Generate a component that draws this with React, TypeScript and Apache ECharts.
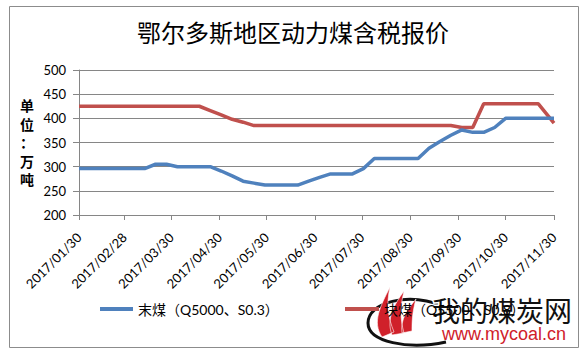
import React, { useEffect, useRef } from "react";
import * as echarts from "echarts";

// ---- data ----
const titleText = "鄂尔多斯地区动力煤含税报价";
const yAxisTitleChars = ["单", "位", "：", "万", "吨"];
const startDate = "2017/01/30";
const endDate = "2017/11/30";
const tickLabels = [
  "2017/01/30", "2017/02/28", "2017/03/30", "2017/04/30", "2017/05/30", "2017/06/30",
  "2017/07/30", "2017/08/30", "2017/09/30", "2017/10/30", "2017/11/30",
];
const pointDates = [
  "2017/01/30", "2017/02/06", "2017/02/13", "2017/02/20", "2017/02/27", "2017/03/06",
  "2017/03/13", "2017/03/20", "2017/03/27", "2017/04/03", "2017/04/10", "2017/04/17",
  "2017/04/24", "2017/05/01", "2017/05/08", "2017/05/15", "2017/05/22", "2017/05/29",
  "2017/06/05", "2017/06/12", "2017/06/19", "2017/06/26", "2017/07/03", "2017/07/10",
  "2017/07/17", "2017/07/24", "2017/07/31", "2017/08/07", "2017/08/14", "2017/08/21",
  "2017/08/28", "2017/09/04", "2017/09/11", "2017/09/18", "2017/09/25", "2017/10/02",
  "2017/10/09", "2017/10/16", "2017/10/23", "2017/10/30", "2017/11/06", "2017/11/13",
  "2017/11/20", "2017/11/30",
];
const seriesNames = ["末煤（Q5000、S0.3）", "块煤（Q5500、S0.8）"];
const fineCoal = [
  296, 296, 296, 296, 296, 296, 296, 305, 305, 300, 300, 300,
  300, 291, 281, 270, 266, 262, 262, 262, 262, 270, 278, 285,
  285, 285, 296, 317, 317, 317, 317, 317, 338, 352, 365, 376,
  371, 371, 381, 400, 400, 400, 400, 400,
];
const lumpCoal = [
  425, 425, 425, 425, 425, 425, 425, 425, 425, 425, 425, 425,
  416, 407, 398, 392, 385, 385, 385, 385, 385, 385, 385, 385,
  385, 385, 385, 385, 385, 385, 385, 385, 385, 385, 385, 381,
  381, 430, 430, 430, 430, 430, 430, 390,
];
const yMin = 200;
const yMax = 500;
const yStep = 50;
const watermarkTitle = "我的煤炭网";
const watermarkUrl = "www.mycoal.cn";

// daily categories for a date axis
function buildDays(a: string, b: string): string[] {
  const p = (s: string) => s.split("/").map(Number);
  const [y1, m1, d1] = p(a);
  const [y2, m2, d2] = p(b);
  let t = Date.UTC(y1, m1 - 1, d1);
  const e = Date.UTC(y2, m2 - 1, d2);
  const out: string[] = [];
  while (t <= e) {
    const d = new Date(t);
    const mm = String(d.getUTCMonth() + 1).padStart(2, "0");
    const dd = String(d.getUTCDate()).padStart(2, "0");
    out.push(`${d.getUTCFullYear()}/${mm}/${dd}`);
    t += 86400000;
  }
  return out;
}
const categories = buildDays(startDate, endDate);

echarts.graphic.registerShape(
  "flame",
  echarts.graphic.extendPath(
    "M10 50 C0 35 8 20 18 0 C14 18 16 30 22 45 Z M20 48 C14 32 22 18 32 4 C28 20 28 32 32 46 Z M30 46 C28 32 36 22 44 12 C40 26 40 36 40 44 Z",
    {}
  )
);
echarts.graphic.registerShape(
  "swoosh",
  echarts.graphic.extendPath("M75 8 C40 -6 0 4 0 25 C0 44 40 52 78 44", {})
);

export default function App() {
  const ref = useRef<HTMLDivElement>(null);
  useEffect(() => {
    document.body.style.margin = "0";
    if (!ref.current) return;
    const chart = echarts.init(ref.current, undefined, { renderer: "svg" });
    const tickSet = new Set(tickLabels);
    const showFn = (_i: number, v: string) => tickSet.has(v);
    const latin = "Lato, 'Noto Sans CJK SC', sans-serif";
    const cjk = "'Noto Sans CJK SC', sans-serif";
    const gridColor = "#868686";
    chart.setOption({
      animation: false,
      backgroundColor: "#fff",
      title: {
        text: titleText,
        left: "center",
        top: 14,
        textStyle: {
          fontSize: 24,
          fontWeight: "normal",
          fontFamily: cjk,
          color: "#000",
        },
      },
      grid: { left: 79, right: 32, top: 70, bottom: 140, containLabel: false },
      legend: [
        {
          data: [seriesNames[0]],
          left: 95,
          top: 296,
          icon: "rect",
          itemWidth: 33,
          itemHeight: 4,
          textStyle: { fontSize: 14, fontFamily: latin, color: "#000", lineHeight: 16 },
        },
        {
          data: [seriesNames[1]],
          left: 340,
          top: 296,
          icon: "rect",
          itemWidth: 34,
          itemHeight: 4,
          textStyle: { fontSize: 14, fontFamily: latin, color: "#000", lineHeight: 16 },
        },
      ],
      xAxis: {
        type: "category",
        data: categories,
        boundaryGap: false,
        axisLine: { lineStyle: { color: gridColor, width: 1 } },
        axisTick: { show: true, interval: showFn, length: 5, lineStyle: { color: gridColor } },
        axisLabel: {
          interval: showFn,
          rotate: 45,
          margin: 20,
          fontSize: 13,
          fontFamily: latin,
          color: "#000",
        },
        splitLine: { show: false },
      },
      yAxis: {
        type: "value",
        min: yMin,
        max: yMax,
        interval: yStep,
        axisLine: { show: true, lineStyle: { color: gridColor, width: 1 } },
        axisTick: { show: true, length: 6, lineStyle: { color: gridColor } },
        axisLabel: { margin: 13, fontSize: 13, fontFamily: latin, color: "#000" },
        splitLine: { show: true, lineStyle: { color: gridColor, width: 1 } },
      },
      series: [
        {
          name: seriesNames[0],
          type: "line",
          data: pointDates.map((d, i) => [d, fineCoal[i]]),
          symbol: "none",
          color: "#4F81BD",
          lineStyle: { width: 3.5, color: "#4F81BD" },
          z: 3,
        },
        {
          name: seriesNames[1],
          type: "line",
          data: pointDates.map((d, i) => [d, lumpCoal[i]]),
          symbol: "none",
          color: "#C0504D",
          lineStyle: { width: 3.5, color: "#C0504D" },
          z: 2,
        },
      ],
      graphic: [
        {
          type: "rect",
          shape: { x: 9.5, y: 6.5, width: 569, height: 341 },
          style: { fill: "none", stroke: "#8c8c8c", lineWidth: 1 },
          silent: true,
          z: 0,
        },
        ...yAxisTitleChars.map((ch, i) => ({
          type: "text",
          x: 27,
          y: 105 + i * 18.5,
          style: {
            text: ch,
            fontSize: 14,
            lineHeight: 15,
            fontWeight: "bold",
            fontFamily: cjk,
            fill: "#000",
            align: "center",
            verticalAlign: "middle",
          },
        })),
        {
          type: "group",
          z: 100,
          children: [
            {
              type: "swoosh",
              x: 368,
              y: 298,
              style: { fill: "none", stroke: "#111", lineWidth: 3 },
            },
            {
              type: "flame",
              x: 372,
              y: 287,
              style: { fill: "#d0202a", stroke: "#fff", lineWidth: 0.6 },
            },
            {
              type: "text",
              x: 432,
              y: 310,
              style: {
                text: watermarkTitle,
                fontSize: 28,
                fontFamily: cjk,
                fill: "#111",
                verticalAlign: "middle",
                stroke: "#fff",
                lineWidth: 3,
              },
            },
            {
              type: "text",
              x: 442,
              y: 334,
              style: {
                text: watermarkUrl,
                fontSize: 18,
                fontFamily: "'Liberation Sans', sans-serif",
                fill: "#d0202a",
                verticalAlign: "middle",
              },
            },
          ],
        },
      ],
    });
    return () => chart.dispose();
  }, []);
  return <div ref={ref} style={{ width: 586, height: 355 }} />;
}
